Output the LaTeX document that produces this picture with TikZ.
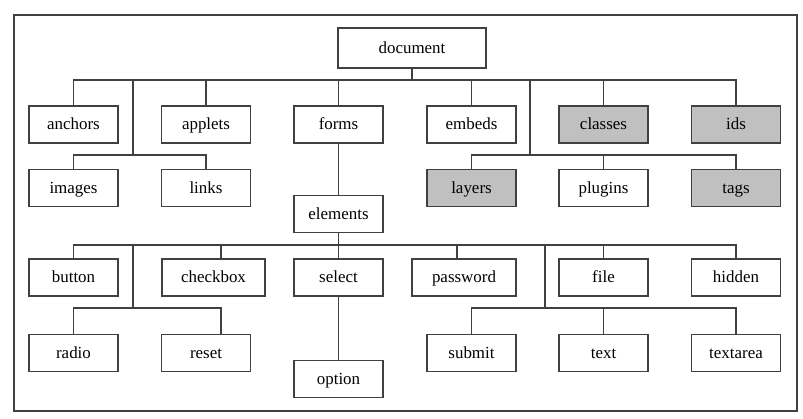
\documentclass[tikz,border=0pt]{standalone}
\usepackage{fontspec}
\setmainfont{Liberation Serif}
\definecolor{linegray}{RGB}{64,64,64}
\definecolor{boxgray}{RGB}{192,192,192}

\begin{document}
\begin{tikzpicture}[x=0.75pt,y=-0.75pt,
  box/.style={draw=linegray, line width=0.9pt, minimum width=66.75pt, minimum height=27.75pt, inner sep=0pt, text height=2ex, text depth=0.3ex, font=\fontsize{12.7}{15}\selectfont},
  greybox/.style={box, fill=boxgray},
  wire/.style={draw=linegray, line width=0.9pt}]

\useasboundingbox (0,0) rectangle (803,418);

\draw [wire] (14,15) rectangle (797,411);

\node [box, minimum width=111pt, minimum height=30pt] (doc) at (412,48) {document};

\node [box] (anchors) at (73.5,124.5) {anchors};
\node [box] (applets) at (206,124.5) {applets};
\node [box] (forms) at (338.5,124.5) {forms};
\node [box] (embeds) at (471.5,124.5) {embeds};
\node [greybox] (classes) at (603.5,124.5) {classes};
\node [greybox] (ids) at (736,124.5) {ids};

\node [box] (images) at (73.5,188) {images};
\node [box] (links) at (206,188) {links};
\node [greybox] (layers) at (471.5,188) {layers};
\node [box] (plugins) at (603.5,188) {plugins};
\node [greybox] (tags) at (736,188) {tags};

\node [box] (elements) at (338.5,214) {elements};

\node [box] (button) at (73.5,277.5) {button};
\node [box, minimum width=77.25pt] (checkbox) at (213.5,277.5) {checkbox};
\node [box] (select) at (338.5,277.5) {select};
\node [box, minimum width=78pt] (password) at (464,277.5) {password};
\node [box] (file) at (603.5,277.5) {file};
\node [box] (hidden) at (736,277.5) {hidden};

\node [box] (radio) at (73.5,353) {radio};
\node [box] (reset) at (206,353) {reset};
\node [box] (submit) at (471.5,353) {submit};
\node [box] (text) at (603.5,353) {text};
\node [box] (textarea) at (736,353) {textarea};

\node [box] (option) at (338.5,379) {option};

% document level
\coordinate (top) at (412,80);
\coordinate (ltop) at (133,80);
\coordinate (lmid) at (133,155);
\coordinate (rtop) at (530,80);
\coordinate (rmid) at (530,155);

\draw [wire] (doc.south) -- (top);
\draw [wire] (anchors.north) |- (top) -| (ids.north);
\draw [wire] (applets.north) -- (applets.north |- top);
\draw [wire] (forms.north) -- (forms.north |- top);
\draw [wire] (embeds.north) -- (embeds.north |- top);
\draw [wire] (classes.north) -- (classes.north |- top);

\draw [wire] (ltop) -- (lmid);
\draw [wire] (images.north) |- (lmid) -| (links.north);

\draw [wire] (rtop) -- (rmid);
\draw [wire] (layers.north) |- (rmid) -| (tags.north);
\draw [wire] (plugins.north) -- (plugins.north |- rmid);

\draw [wire] (forms.south) -- (elements.north);

% elements level
\coordinate (bus) at (338.5,245);
\coordinate (lbus) at (133,245);
\coordinate (lsub) at (133,308);
\coordinate (rbus) at (545,245);
\coordinate (rsub) at (545,308);

\draw [wire] (elements.south) -- (select.north);
\draw [wire] (button.north) |- (bus) -| (hidden.north);
\draw [wire] ([xshift=5.6pt]checkbox.north) -- ([xshift=5.6pt]checkbox.north |- bus);
\draw [wire] ([xshift=-5.25pt]password.north) -- ([xshift=-5.25pt]password.north |- bus);
\draw [wire] (file.north) -- (file.north |- bus);

\draw [wire] (lbus) -- (lsub);
\draw [wire] (radio.north) |- (lsub) -| ([xshift=11.25pt]reset.north);

\draw [wire] (rbus) -- (rsub);
\draw [wire] (submit.north) |- (rsub) -| (textarea.north);
\draw [wire] (text.north) -- (text.north |- rsub);

\draw [wire] (select.south) -- (option.north);

\end{tikzpicture}
\end{document}
